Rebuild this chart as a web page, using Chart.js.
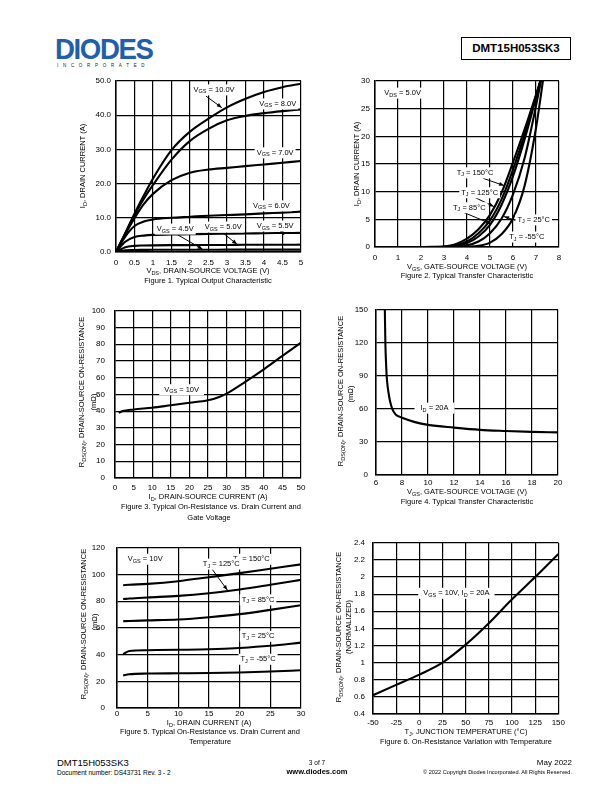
<!DOCTYPE html>
<html><head><meta charset="utf-8">
<script src="https://cdn.jsdelivr.net/npm/chart.js@4/dist/chart.umd.min.js"></script>
<style>
body{margin:0;width:612px;height:792px;position:relative;background:#fff;font-family:'Liberation Sans',Arial,sans-serif;color:#000;overflow:hidden}
.t{position:absolute;white-space:nowrap;line-height:1}
.c{transform:translate(-50%,-50%)}
.r{transform:translate(-50%,-50%) rotate(-90deg)}
.ax{font-size:7.5px}
sub{font-size:5.5px;vertical-align:-1.5px;line-height:0}
canvas{position:absolute}
</style></head><body>

<!-- header -->
<div class="t" style="left:55px;top:34px;font-size:30px;font-weight:bold;color:#1f5fae;letter-spacing:-1.5px;transform-origin:0 0;transform:scaleX(0.92)">DIODES</div>
<div class="t" style="left:57px;top:64px;font-size:4.5px;letter-spacing:4.7px;color:#222">INCORPORATED</div>
<div class="t" style="left:461px;top:37px;width:110px;height:23px;border:1.3px solid #000;box-sizing:border-box;font-size:11.5px;font-weight:bold;display:flex;align-items:center;justify-content:center">DMT15H053SK3</div>

<!-- axis titles -->
<div class="t r ax" style="left:83px;top:166px">I<sub>D</sub>, DRAIN CURRENT (A)</div>
<div class="t c ax" style="left:208px;top:271px">V<sub>DS</sub>, DRAIN-SOURCE VOLTAGE (V)</div>
<div class="t c ax" style="left:208px;top:281px">Figure 1. Typical Output Characteristic</div>

<div class="t r ax" style="left:357px;top:164px">I<sub>D</sub>, DRAIN CURRENT (A)</div>
<div class="t c ax" style="left:467px;top:266.5px">V<sub>GS</sub>, GATE-SOURCE VOLTAGE (V)</div>
<div class="t c ax" style="left:467px;top:276px">Figure 2. Typical Transfer Characteristic</div>

<div class="t r ax" style="left:82px;top:392px">R<sub>DS(ON)</sub>, DRAIN-SOURCE ON-RESISTANCE</div>
<div class="t r ax" style="left:94px;top:402px">(mΩ)</div>
<div class="t c ax" style="left:208px;top:497px">I<sub>D</sub>, DRAIN-SOURCE CURRENT (A)</div>
<div class="t c ax" style="left:211px;top:507px">Figure 3. Typical On-Resistance vs. Drain Current and</div>
<div class="t c ax" style="left:209px;top:517.5px">Gate Voltage</div>

<div class="t r ax" style="left:341px;top:391px">R<sub>DS(ON)</sub>, DRAIN-SOURCE ON-RESISTANCE</div>
<div class="t r ax" style="left:351px;top:394px">(mΩ)</div>
<div class="t c ax" style="left:467px;top:492px">V<sub>GS</sub>, GATE-SOURCE VOLTAGE (V)</div>
<div class="t c ax" style="left:467px;top:502px">Figure 4. Typical Transfer Characteristic</div>

<div class="t r ax" style="left:84px;top:624px">R<sub>DS(ON)</sub>, DRAIN-SOURCE ON-RESISTANCE</div>
<div class="t r ax" style="left:95px;top:622px">(mΩ)</div>
<div class="t c ax" style="left:209px;top:722.5px">I<sub>D</sub>, DRAIN CURRENT (A)</div>
<div class="t c ax" style="left:210px;top:731.7px">Figure 5. Typical On-Resistance vs. Drain Current and</div>
<div class="t c ax" style="left:210px;top:741.7px">Temperature</div>

<div class="t r ax" style="left:339px;top:627px">R<sub>DS(ON)</sub>, DRAIN-SOURCE ON-RESISTANCE</div>
<div class="t r ax" style="left:349px;top:627px">(NORMALIZED)</div>
<div class="t c ax" style="left:466px;top:731.7px">T<sub>J</sub>, JUNCTION TEMPERATURE (°C)</div>
<div class="t c ax" style="left:466px;top:741.7px">Figure 6. On-Resistance Variation with Temperature</div>

<!-- footer -->
<div class="t" style="left:57px;top:758px;font-size:9.5px">DMT15H053SK3</div>
<div class="t" style="left:57px;top:769.5px;font-size:6.5px">Document number: DS43731 Rev. 3 - 2</div>
<div class="t c" style="left:317px;top:762.5px;font-size:6.5px">3 of 7</div>
<div class="t c" style="left:317px;top:772px;font-size:7.5px;font-weight:bold">www.diodes.com</div>
<div class="t" style="right:40px;top:759px;font-size:8px">May 2022</div>
<div class="t" style="right:40px;top:769.5px;font-size:5.6px">© 2022 Copyright Diodes Incorporated. All Rights Reserved.</div>

<script>
// ---------------- DATA ----------------
// Figure 1: Typical Output Characteristic (ID vs VDS)
const fig1Vds   = [0, 0.25, 0.5, 0.75, 1, 1.5, 2, 2.5, 3, 3.5, 4, 4.5, 5];
const fig1Vgs10 = [0, 5.5, 11.2, 16.5, 21.5, 29.8, 35.2, 39, 42.3, 44.8, 46.8, 48.2, 49.2];
const fig1Vgs8  = [0, 5.4, 10.8, 15.5, 19.6, 27, 32.5, 36, 38.5, 39.8, 40.6, 41.2, 41.7];
const fig1Vgs7  = [0, 5.2, 9.9, 14, 17, 21, 23.2, 24.1, 24.6, 25.1, 25.6, 26.1, 26.6];
const fig1Vgs6  = [0, 4.5, 7.6, 8.9, 9.5, 10, 10.3, 10.6, 10.8, 11.0, 11.3, 11.5, 11.8];
const fig1Vgs55 = [0, 3, 4.4, 4.8, 5.0, 5.1, 5.2, 5.3, 5.35, 5.4, 5.5, 5.55, 5.6];
const fig1Vgs5  = [0, 1.4, 1.8, 1.9, 1.95, 2.0, 2.0, 2.05, 2.05, 2.1, 2.1, 2.1, 2.15];
const fig1Vgs45 = [0, 0.5, 0.6, 0.62, 0.64, 0.65, 0.66, 0.67, 0.68, 0.69, 0.7, 0.7, 0.7];

// Figure 2: Typical Transfer Characteristic (ID vs VGS)
const fig2Vgs   = [1.9, 2.5, 3, 3.5, 4, 4.5, 5, 5.5, 6, 6.5, 7, 7.5];
const fig2T150  = [0, 0.02, 0.1, 0.5, 1.5, 3.2, 5.8, 9.8, 15.3, 21.2, 27.5, 34];
const fig2T125  = [0, 0.01, 0.05, 0.3, 1.0, 2.5, 4.8, 8.6, 14, 20.3, 27.3, 34.5];
const fig2T85   = [0, 0, 0.02, 0.2, 0.7, 1.9, 4.0, 7.6, 12.8, 19.4, 27, 35];
const fig2T25   = [0, 0, 0, 0.05, 0.3, 1.0, 2.5, 5.1, 9.5, 16, 25.5, 36];
const fig2Tm55  = [0, 0, 0, 0, 0.05, 0.2, 0.8, 2.3, 5.2, 11, 21.5, 36];

// Figure 3: On-Resistance vs Drain Current (VGS = 10V)
const fig3Id    = [1, 2, 5, 10, 15, 20, 25, 28, 30, 35, 40, 45, 50];
const fig3Rds   = [39, 40, 41, 42, 43.5, 45, 46.5, 48.5, 50.5, 57.5, 65, 73, 81];

// Figure 4: On-Resistance vs Gate-Source Voltage (ID = 20A)
const fig4Vgs   = [6.68, 6.72, 6.78, 6.82, 6.9, 7.0, 7.1, 7.25, 7.5, 7.8, 8, 9, 10, 12, 14, 16, 18, 20];
const fig4Rds   = [150, 120, 100, 90, 80, 72, 66, 60, 55, 53, 52, 48, 45.5, 43, 41, 40, 39.2, 38.7];

// Figure 5: On-Resistance vs Drain Current and Temperature
const fig5Id    = [1, 2, 5, 10, 15, 20, 25, 30];
const fig5T150  = [92, 92.3, 93, 95, 98, 101, 104.3, 107.6];
const fig5T125  = [81.6, 82, 82.8, 84, 86, 88.8, 92.3, 96];
const fig5T85   = [65, 65.2, 65.6, 66.3, 68, 70.3, 73.5, 77];
const fig5T25   = [40.3, 42.7, 43.3, 43.6, 44, 45, 46.6, 49];
const fig5Tm55  = [24.3, 25.3, 25.8, 26, 26.2, 26.6, 27.3, 28.3];

// Figure 6: Normalized On-Resistance vs Junction Temperature
const fig6Tj    = [-50, -25, 0, 25, 50, 75, 100, 125, 150];
const fig6Rn    = [0.62, 0.74, 0.86, 1.0, 1.21, 1.46, 1.74, 2.0, 2.27];

// ---------------- RENDERING ----------------
const FONT = "'Liberation Sans', Arial, sans-serif";

function parts(str){
  const out=[]; const re=/_\{([^}]*)\}/g; let last=0,m;
  while((m=re.exec(str))){ if(m.index>last) out.push([str.slice(last,m.index),0]); out.push([m[1],1]); last=re.lastIndex; }
  if(last<str.length) out.push([str.slice(last),0]);
  return out;
}

const annotPlugin = {
  id:'annot',
  afterDatasetsDraw(chart, args, opts){
    const ctx=chart.ctx, sx=chart.scales.x, sy=chart.scales.y;
    const items=opts.items||[];
    ctx.save();
    items.forEach(it=>{
      if(!it.arrow) return;
      const x1=sx.getPixelForValue(it.arrow[0]), y1=sy.getPixelForValue(it.arrow[1]);
      const x2=sx.getPixelForValue(it.arrow[2]), y2=sy.getPixelForValue(it.arrow[3]);
      ctx.strokeStyle='#000'; ctx.lineWidth=1;
      ctx.beginPath(); ctx.moveTo(x1,y1); ctx.lineTo(x2,y2); ctx.stroke();
      const a=Math.atan2(y2-y1,x2-x1), L=5, W=2;
      ctx.beginPath(); ctx.moveTo(x2,y2);
      ctx.lineTo(x2-L*Math.cos(a)+W*Math.sin(a), y2-L*Math.sin(a)-W*Math.cos(a));
      ctx.lineTo(x2-L*Math.cos(a)-W*Math.sin(a), y2-L*Math.sin(a)+W*Math.cos(a));
      ctx.closePath(); ctx.fillStyle='#000'; ctx.fill();
    });
    items.forEach(it=>{
      const ps=parts(it.text);
      const fMain='7.5px '+FONT, fSub='5.5px '+FONT;
      let w=0; ps.forEach(p=>{ ctx.font=p[1]?fSub:fMain; p.w=ctx.measureText(p[0]).width; w+=p.w; });
      const cx=sx.getPixelForValue(it.x), cy=sy.getPixelForValue(it.y);
      const px = it.pad!=null ? it.pad : 2;
      ctx.fillStyle='#fff';
      ctx.fillRect(cx-w/2-px, cy-5.5, w+2*px, 11);
      ctx.fillStyle='#000'; ctx.textBaseline='middle'; ctx.textAlign='left';
      let x=cx-w/2;
      ps.forEach(p=>{ ctx.font=p[1]?fSub:fMain; ctx.fillText(p[0], x, p[1]?cy+2:cy); x+=p.w; });
    });
    ctx.restore();
  }
};

function series(xs, ys){ return { data: xs.map((x,i)=>({x:x, y:ys[i]})), borderColor:'#000', borderWidth:2.1, fill:false, pointRadius:0 }; }

function build(g, xs, ys, datasets, items){
  const W=g.R-g.L+50, H=g.B-g.T+30;
  const cv=document.createElement('canvas');
  cv.width=W; cv.height=H;
  cv.style.left=(g.L-40)+'px'; cv.style.top=(g.T-10)+'px';
  cv.style.width=W+'px'; cv.style.height=H+'px';
  document.body.insertBefore(cv, document.body.firstChild);
  const grid={color:'#000', lineWidth:1.2, drawTicks:false};
  const border={display:true, color:'#000', width:1.5};
  const tickFont={family:FONT, size:8};
  new Chart(cv, {
    type:'line',
    data:{datasets},
    options:{
      responsive:false, animation:false, devicePixelRatio:1,
      layout:{padding:{left:0, top:10, right:10, bottom:0}},
      plugins:{legend:{display:false}, tooltip:{enabled:false}, annot:{items}},
      elements:{line:{cubicInterpolationMode:'monotone'}},
      scales:{
        x:{type:'linear', min:xs.min, max:xs.max, grid, border,
           ticks:{stepSize:xs.step, autoSkip:false, maxRotation:0, color:'#000', font:tickFont, padding:xs.pad, callback:xs.fmt},
           afterFit(s){ s.height=20; }},
        y:{type:'linear', min:ys.min, max:ys.max, grid, border,
           ticks:{stepSize:ys.step, autoSkip:false, color:'#000', font:tickFont, padding:ys.pad, callback:ys.fmt},
           afterFit(s){ s.width=40; }}
      }
    },
    plugins:[annotPlugin]
  });
}

const num = v => String(+v.toFixed(2));

// Figure 1
build({L:116,T:81,R:301,B:252},
  {min:0,max:5,step:0.5,pad:6,fmt:num},
  {min:0,max:50,step:10,pad:5,fmt:v=>v.toFixed(1)},
  [series(fig1Vds,fig1Vgs10),series(fig1Vds,fig1Vgs8),series(fig1Vds,fig1Vgs7),series(fig1Vds,fig1Vgs6),
   series(fig1Vds,fig1Vgs55),series(fig1Vds,fig1Vgs5),series(fig1Vds,fig1Vgs45)],
  [{text:'V_{GS} = 10.0V', x:2.65, y:47.4, arrow:[2.43,45.6,2.86,42.2]},
   {text:'V_{GS} = 8.0V', x:4.37, y:43.3},
   {text:'V_{GS} = 7.0V', x:4.3, y:29},
   {text:'V_{GS} = 6.0V', x:4.2, y:13.5},
   {text:'V_{GS} = 5.5V', x:4.3, y:7.6, arrow:[4.43,7.1,4.54,5.0]},
   {text:'V_{GS} = 5.0V', x:2.9, y:7.3, arrow:[2.89,5.6,3.27,2.25]},
   {text:'V_{GS} = 4.5V', x:1.6, y:6.7, arrow:[1.64,5.2,2.34,0.8]}]);

// Figure 2
build({L:375,T:81,R:559,B:247},
  {min:0,max:8,step:1,pad:6,fmt:num},
  {min:0,max:30,step:5,pad:5,fmt:num},
  [series(fig2Vgs,fig2T150),series(fig2Vgs,fig2T125),series(fig2Vgs,fig2T85),series(fig2Vgs,fig2T25),series(fig2Vgs,fig2Tm55)],
  [{text:'V_{DS} = 5.0V', x:1.2, y:27.8},
   {text:'T_{J} = 150°C', x:4.35, y:13.4, arrow:[4.71,12.4,5.61,11.1]},
   {text:'T_{J} = 125°C', x:4.55, y:9.8, arrow:[4.27,9.1,5.17,7.3]},
   {text:'T_{J} = 85°C', x:4.1, y:7.1, arrow:[3.77,6.4,5.04,4.2]},
   {text:'T_{J} = 25°C', x:6.9, y:4.9, arrow:[6.16,4.76,5.61,5.5]},
   {text:'T_{J} = -55°C', x:6.6, y:1.8}]);

// Figure 3
build({L:115,T:306,R:301,B:478},
  {min:0,max:50,step:5,pad:5,fmt:num},
  {min:0,max:100,step:10,pad:10,fmt:num},
  [series(fig3Id,fig3Rds)],
  [{text:'V_{GS} = 10V', x:17.9, y:52.8, pad:5}]);

// Figure 4
build({L:376,T:307,R:558,B:475},
  {min:6,max:20,step:2,pad:3,fmt:num},
  {min:0,max:150,step:30,pad:8,fmt:num},
  [series(fig4Vgs,fig4Rds)],
  [{text:'I_{D} = 20A', x:10.5, y:60.7, pad:6}]);

// Figure 5
build({L:117,T:541,R:301,B:708},
  {min:0,max:30,step:5,pad:1,fmt:num},
  {min:0,max:120,step:20,pad:12,fmt:num},
  [series(fig5Id,fig5T150),series(fig5Id,fig5T125),series(fig5Id,fig5T85),series(fig5Id,fig5T25),series(fig5Id,fig5Tm55)],
  [{text:'V_{GS} = 10V', x:4.6, y:111.4},
   {text:'T_{J} = 150°C', x:21.9, y:111.4},
   {text:'T_{J} = 125°C', x:17, y:107.8, arrow:[15.5,104,18.0,88.3]},
   {text:'T_{J} = 85°C', x:23, y:81},
   {text:'T_{J} = 25°C', x:23, y:53.7},
   {text:'T_{J} = -55°C', x:23, y:36.5}]);

// Figure 6
build({L:373,T:540,R:559,B:714},
  {min:-50,max:150,step:25,pad:4,fmt:num},
  {min:0.4,max:2.4,step:0.2,pad:8,fmt:num},
  [series(fig6Tj,fig6Rn)],
  [{text:'V_{GS} = 10V, I_{D} = 20A', x:40, y:1.81, pad:5}]);
</script>
</body></html>
